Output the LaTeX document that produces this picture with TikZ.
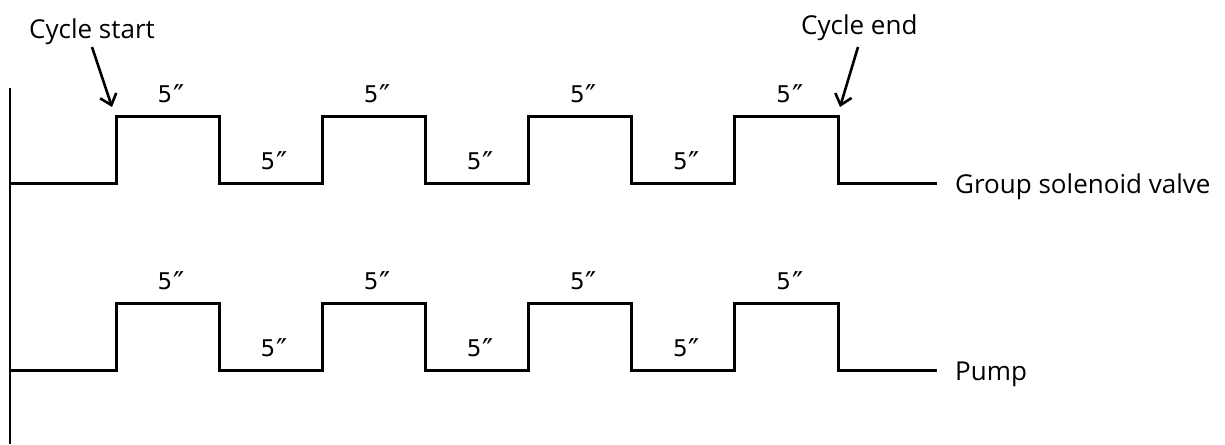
\documentclass[tikz,border=0pt]{standalone}
\usepackage{fontspec}
\setmainfont{Open Sans}
\newfontfamily\durfont{DejaVu Sans}
\usetikzlibrary{arrows.meta}
% duration mark: digit followed by a large double prime
\newcommand{\secs}[1]{#1\hspace{1pt}\raisebox{-4pt}{\fontsize{30}{30}\selectfont ″}}
\begin{document}
\begin{tikzpicture}[x=1pt,y=-1pt,
  signal/.style={line width=3pt, line join=miter},
  axisline/.style={line width=2pt},
  pointer/.style={line width=2.6pt, -{Straight Barb[length=10pt,width=17pt,line width=2.6pt]}},
  dur/.style={font=\durfont\fontsize{23}{23}\selectfont, inner sep=0pt, anchor=base},
  caption/.style={font=\fontsize{26}{26}\selectfont, inner sep=0pt, anchor=base west}]
\useasboundingbox (0,0) rectangle (1225,444);

% time axis
\draw[axisline] (10,88) -- (10,444);

% two square-wave signals: four 5-second pulses each
\foreach \lo/\hi in {183/116, 370/303} {
  \draw[signal] (10,\lo)
    foreach \k in {0,...,3} {
      -- ({116+206.3*\k},\lo) -- ({116+206.3*\k},\hi)
      -- ({219.2+206.3*\k},\hi) -- ({219.2+206.3*\k},\lo)
    } -- (937,\lo);
  % durations of high and low phases
  \foreach \k in {0,...,3}
    \node[dur] at ({171+206.3*\k},{\hi-14}) {\secs{5}};
  \foreach \k in {0,...,2}
    \node[dur] at ({274+206.3*\k},{\lo-14}) {\secs{5}};
}

% signal names
\node[caption] (valve) at (955,193) {Group solenoid valve};
\node[caption] (pump) at (955,380) {Pump};

% cycle markers
\node[caption] (start) at (29,38) {Cycle start};
\node[caption] (end) at (801,35) {Cycle end};
\coordinate (startTail) at (92,47);
\coordinate (startTip) at (112,107);
\coordinate (endTail) at (858,47);
\coordinate (endTip) at (840,107);
\draw[pointer] (startTail) -- (startTip);
\draw[pointer] (endTail) -- (endTip);
\end{tikzpicture}
\end{document}
